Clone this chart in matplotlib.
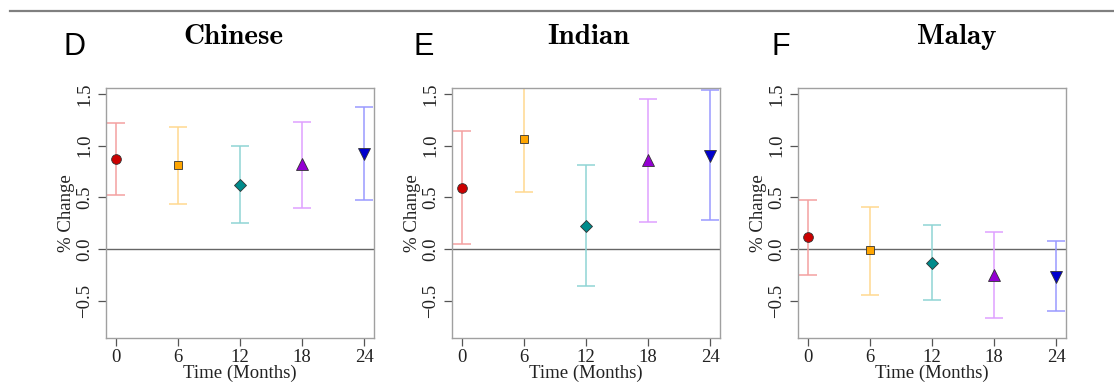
import numpy as np
import matplotlib
matplotlib.use("Agg")
from matplotlib import pyplot as plt
from matplotlib.lines import Line2D

months = [0, 6, 12, 18, 24]
panels = ["D", "E", "F"]
groups = ["Chinese", "Indian", "Malay"]

chinese_mean = [0.87, 0.815, 0.622, 0.821, 0.918]
chinese_low = [0.525, 0.441, 0.251, 0.403, 0.48]
chinese_high = [1.217, 1.185, 0.995, 1.23, 1.372]

indian_mean = [0.596, 1.06, 0.225, 0.86, 0.90]
indian_low = [0.055, 0.551, -0.354, 0.264, 0.28]
indian_high = [1.143, 1.62, 0.812, 1.449, 1.54]

malay_mean = [0.116, -0.01, -0.129, -0.245, -0.264]
malay_low = [-0.245, -0.438, -0.493, -0.667, -0.593]
malay_high = [0.473, 0.412, 0.238, 0.164, 0.084]

means = [chinese_mean, indian_mean, malay_mean]
lows = [chinese_low, indian_low, malay_low]
highs = [chinese_high, indian_high, malay_high]

point_cols = ["#cc0000", "#ffa500", "#008b8b", "#9400d3", "#0000cd"]
bar_cols = ["#f4a0a0", "#ffd890", "#8fd4d4", "#dfa0ff", "#9a9aff"]
markers = ["o", "s", "D", "^", "v"]
msizes = [7, 6, 6, 8, 8]

W, H = 1114, 383
fig = plt.figure(figsize=(W / 100, H / 100), dpi=100)

serif = ["Liberation Serif", "DejaVu Serif"]

# rule across the top
fig.add_artist(Line2D([10 / W, 1], [1 - 10.5 / H] * 2, color="#808080", lw=1.6))

lefts = [106, 452, 797.7]
letter_x = [64, 414, 771]
title_x = [233, 588, 957]
top, bottom, width = 87.7, 338.3, 268.3

for k in range(3):
    ax = fig.add_axes([lefts[k] / W, 1 - bottom / H, width / W, (bottom - top) / H])
    ax.axhline(0, color="#666666", lw=1.0, zorder=1)
    for i, m in enumerate(months):
        ax.errorbar(m, means[k][i],
                    yerr=[[means[k][i] - lows[k][i]], [highs[k][i] - means[k][i]]],
                    fmt="none", ecolor=bar_cols[i], elinewidth=1.1, capsize=6.5,
                    capthick=1.1, zorder=2)
        ax.plot(m, means[k][i], marker=markers[i], ms=msizes[i], color=point_cols[i],
                mec="#333333", mew=0.6, ls="none", zorder=3)
    ax.set_xlim(-0.96, 24.96)
    ax.set_ylim(-0.86, 1.56)
    ax.set_xticks(months)
    ax.set_yticks([-0.5, 0, 0.5, 1.0, 1.5])
    ax.set_yticklabels(["\u22120.5", "0.0", "0.5", "1.0", "1.5"], rotation=90, va="center")
    for s in ax.spines.values():
        s.set_color("#a0a0a0")
        s.set_linewidth(1.0)
    ax.tick_params(colors="#555555", length=6, width=0.9, labelsize=13.5, pad=3)
    ax.tick_params(axis="x", pad=1.5)
    ax.tick_params(labelcolor="#222222")
    for lab in ax.get_xticklabels() + ax.get_yticklabels():
        lab.set_family(serif)
    ax.set_xlabel("Time (Months)", fontsize=13.5, family=serif, labelpad=-1, color="#222222")
    ax.set_ylabel("% Change", fontsize=13.5, family=serif, labelpad=1, color="#222222")

    fig.text(letter_x[k] / W, 1 - 47 / H, panels[k], fontsize=22,
             family=["Liberation Sans", "DejaVu Sans"], ha="left", va="center")
    fig.text(title_x[k] / W, 1 - 37 / H, groups[k], fontsize=21,
             family=["cmb10", "DejaVu Serif"], ha="center", va="center")

fig.savefig("out.png", dpi=100)
